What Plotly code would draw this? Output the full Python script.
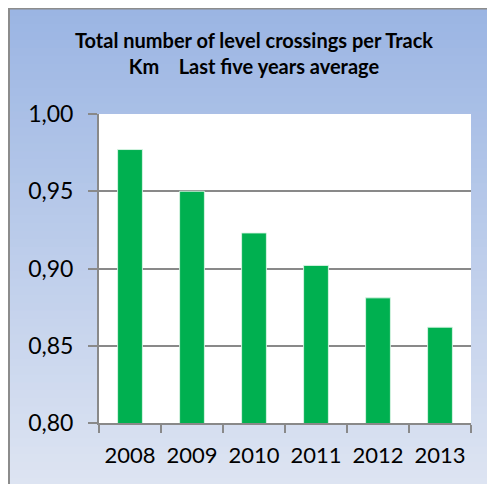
import plotly.graph_objects as go

YEARS = ["2008", "2009", "2010", "2011", "2012", "2013"]
CROSSINGS_PER_KM = [0.977, 0.950, 0.923, 0.902, 0.881, 0.862]
Y_TICKS = [0.80, 0.85, 0.90, 0.95, 1.00]

TITLE = "Total number of level crossings per Track<br>Km\u00a0\u00a0\u00a0\u00a0Last five years average"

# the page body adds an 8px margin, so the figure is 8px smaller than the window
OFF = 8
W, H = 495 - OFF, 484 - OFF
PLOT_L, PLOT_R, PLOT_T, PLOT_B = 99 - OFF, 471 - OFF, 114 - OFF, 423 - OFF
GRID = "#898989"


def px_x(p):
    return (p - PLOT_L) / (PLOT_R - PLOT_L)


def px_y(p):
    return (PLOT_B - p) / (PLOT_B - PLOT_T)


def blend(c1, c2, t):
    return "rgb({},{},{})".format(*[round(a + (b - a) * t) for a, b in zip(c1, c2)])


fig = go.Figure(
    go.Bar(
        x=YEARS,
        y=CROSSINGS_PER_KM,
        width=0.4,
        marker=dict(color="#00B050", line=dict(color="rgba(220,245,230,0.9)", width=1)),
    )
)

# gradient background panel built from thin strips
shapes = []
top_c, bot_c = (155, 181, 227), (221, 228, 242)
n = 60
y_top, y_bot = 0, H + 2
for i in range(n):
    a = y_top + (y_bot - y_top) * i / n
    b = y_top + (y_bot - y_top) * (i + 1) / n + 1
    shapes.append(dict(
        type="rect", xref="paper", yref="paper", layer="below",
        x0=px_x(1), x1=px_x(W + 2), y0=px_y(b), y1=px_y(a),
        fillcolor=blend(top_c, bot_c, i / (n - 1)), line_width=0,
    ))
# white plot area
shapes.append(dict(type="rect", xref="paper", yref="paper", layer="below",
                   x0=0, x1=1, y0=0, y1=1, fillcolor="white", line_width=0))
# outer frame (left and top edges)
shapes.append(dict(type="line", xref="paper", yref="paper",
                   x0=px_x(1), x1=px_x(1), y0=px_y(0), y1=px_y(H + 2),
                   line=dict(color="#8C8C8C", width=2)))
shapes.append(dict(type="line", xref="paper", yref="paper",
                   x0=px_x(1), x1=px_x(W + 2), y0=px_y(0.5), y1=px_y(0.5),
                   line=dict(color="#8C8C8C", width=2)))

fig.update_layout(
    width=W,
    height=H,
    margin=dict(l=PLOT_L, r=W - PLOT_R, t=PLOT_T, b=H - PLOT_B, pad=0),
    paper_bgcolor="white",
    plot_bgcolor="rgba(0,0,0,0)",
    separators=", ",
    showlegend=False,
    shapes=shapes,
    title=dict(
        text=TITLE,
        x=246 / W,
        xanchor="center",
        y=1 - 40 / H,
        yanchor="top",
        font=dict(family="Lato", size=20, color="black", weight="bold"),
    ),
    font=dict(family="Lato", color="black"),
)

fig.update_yaxes(
    range=[0.80, 1.00],
    tickvals=Y_TICKS,
    tickformat=".2f",
    showgrid=True,
    gridcolor=GRID,
    gridwidth=1.5,
    showline=True,
    linecolor=GRID,
    linewidth=2,
    ticks="outside",
    ticklen=9,
    tickcolor=GRID,
    tickwidth=1.5,
    ticklabelstandoff=10,
    tickfont=dict(size=23, color="black"),
    zeroline=False,
    automargin=False,
)
fig.update_xaxes(
    showline=True,
    linecolor=GRID,
    linewidth=2,
    ticks="outside",
    tickson="boundaries",
    ticklen=8,
    tickcolor=GRID,
    tickwidth=1.5,
    tickangle=0,
    ticklabelstandoff=12,
    tickfont=dict(size=22, color="black"),
    automargin=False,
)

fig.write_html("out.html")
